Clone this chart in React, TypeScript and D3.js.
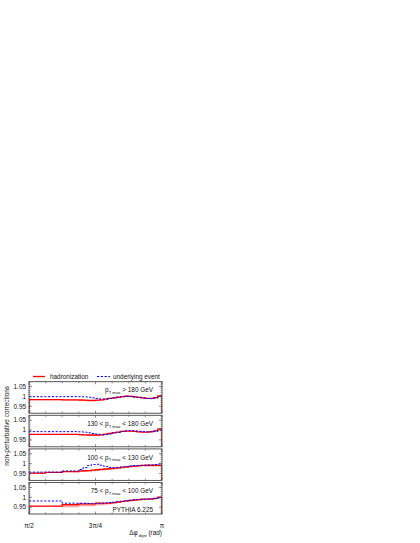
import React from "react";
import * as d3 from "d3";

// Bin edges in units of pi/64 (pi/2 .. pi)
const binEdges = [32, 36, 40, 44, 45, 46, 47, 48, 49, 50, 51, 52, 53, 54, 55, 56, 57, 58, 59, 60, 61, 62, 63, 64];

const panelLabels = [
  { pre: "p", sub: "T max", post: " > 180 GeV" },
  { pre: "130 < p", sub: "T max", post: " < 180 GeV" },
  { pre: "100 < p", sub: "T max", post: " < 130 GeV" },
  { pre: "75 < p", sub: "T max", post: " < 100 GeV" },
];

const hadronization180 = [0.984, 0.984, 0.983, 0.982, 0.981, 0.980, 0.980, 0.981, 0.983, 0.986, 0.990, 0.993, 0.996, 0.999, 1.001, 1.000, 0.998, 0.995, 0.993, 0.990, 0.990, 0.994, 1.003];
const underlying180 = [0.999, 0.999, 0.999, 0.999, 0.998, 0.996, 0.993, 0.990, 0.987, 0.987, 0.990, 0.993, 0.996, 0.999, 1.002, 1.001, 0.998, 0.995, 0.992, 0.990, 0.989, 0.992, 1.001];
const hadErr180 = [0.003, 0.003, 0.004, 0.005, 0.005, 0.005, 0.005, 0.004, 0.004, 0.003, 0.003, 0.003, 0.003, 0.003, 0.003, 0.003, 0.003, 0.003, 0.003, 0.003, 0.003, 0.003, 0.003];

const hadronization130 = [0.978, 0.978, 0.978, 0.977, 0.976, 0.975, 0.975, 0.975, 0.976, 0.979, 0.983, 0.987, 0.990, 0.993, 0.995, 0.995, 0.993, 0.991, 0.990, 0.990, 0.992, 0.996, 1.006];
const underlying130 = [0.992, 0.992, 0.992, 0.991, 0.989, 0.986, 0.983, 0.980, 0.977, 0.977, 0.980, 0.985, 0.989, 0.993, 0.996, 0.997, 0.996, 0.994, 0.992, 0.991, 0.991, 0.994, 1.000];
const hadErr130 = [0.003, 0.003, 0.003, 0.004, 0.004, 0.004, 0.004, 0.004, 0.004, 0.004, 0.004, 0.003, 0.003, 0.003, 0.003, 0.003, 0.003, 0.003, 0.003, 0.003, 0.003, 0.003, 0.003];

const hadronization100 = [0.952, 0.956, 0.960, 0.963, 0.964, 0.965, 0.967, 0.969, 0.971, 0.973, 0.975, 0.977, 0.979, 0.982, 0.984, 0.986, 0.988, 0.990, 0.991, 0.992, 0.992, 0.992, 0.991];
const underlying100 = [0.957, 0.957, 0.963, 0.970, 0.980, 0.990, 0.996, 0.997, 0.992, 0.985, 0.980, 0.979, 0.980, 0.983, 0.985, 0.988, 0.990, 0.991, 0.992, 0.993, 0.993, 0.995, 0.998];
const hadErr100 = [0.004, 0.004, 0.004, 0.005, 0.005, 0.005, 0.005, 0.005, 0.006, 0.006, 0.006, 0.006, 0.006, 0.006, 0.006, 0.006, 0.006, 0.006, 0.006, 0.006, 0.006, 0.006, 0.006];

const hadronization75 = [0.955, 0.955, 0.963, 0.966, 0.966, 0.966, 0.966, 0.970, 0.970, 0.970, 0.970, 0.973, 0.976, 0.979, 0.982, 0.984, 0.986, 0.988, 0.990, 0.991, 0.992, 0.994, 1.000];
const underlying75 = [0.981, 0.981, 0.970, 0.970, 0.970, 0.969, 0.968, 0.969, 0.970, 0.971, 0.973, 0.975, 0.977, 0.979, 0.982, 0.985, 0.987, 0.989, 0.990, 0.991, 0.992, 0.994, 0.997];
const hadErr75 = [0.003, 0.003, 0.014, 0.012, 0.012, 0.012, 0.012, 0.010, 0.010, 0.008, 0.006, 0.005, 0.005, 0.005, 0.005, 0.005, 0.004, 0.004, 0.004, 0.004, 0.004, 0.004, 0.004];

const hadronizationSeries = [hadronization180, hadronization130, hadronization100, hadronization75];
const underlyingSeries = [underlying180, underlying130, underlying100, underlying75];
const hadErrSeries = [hadErr180, hadErr130, hadErr100, hadErr75];

const yTickValues = [0.95, 1, 1.05];
const yTickLabels = ["0.95", "1", "1.05"];
const xTickValues = [Math.PI / 2, (3 * Math.PI) / 4, Math.PI];
const xTickLabels = ["\u03c0/2", "3\u03c0/4", "\u03c0"];

const FONT = "'Liberation Sans', Arial, Helvetica, sans-serif";

export default function App() {
  const W = 420, H = 543;
  const left = 29, right = 162;
  const firstTop = 381.7, panelH = 31.5, pitch = 33.6;
  const x = d3.scaleLinear().domain([Math.PI / 2, Math.PI]).range([left, right]);
  const edgeX = binEdges.map((e) => x((e * Math.PI) / 64));
  const minorX = d3.range(0, 9).map((k) => Math.PI / 2 + (k * Math.PI) / 16);
  const minorY = d3.range(0.92, 1.075, 0.01);

  const panels = hadronizationSeries.map((had, pi) => {
    const top = firstTop + pi * pitch;
    const bottom = top + panelH;
    const y = d3.scaleLinear().domain([0.915, 1.075]).range([bottom, top]);
    const und = underlyingSeries[pi];
    const err = hadErrSeries[pi];
    const stepPts = (vals: number[]) => {
      const pts: [number, number][] = [];
      vals.forEach((v, i) => {
        pts.push([edgeX[i], y(v)]);
        pts.push([edgeX[i + 1], y(v)]);
      });
      return pts;
    };
    const line = d3.line<[number, number]>().x((d) => d[0]).y((d) => d[1]);
    const hadPts = stepPts(had);
    const hadPath = line([[edgeX[0], bottom], ...hadPts, [edgeX[edgeX.length - 1], bottom]]);
    const undPath = line(stepPts(und));
    const bandData: { x: number; lo: number; hi: number }[] = [];
    had.forEach((v, i) => {
      bandData.push({ x: edgeX[i], lo: v - err[i], hi: v });
      bandData.push({ x: edgeX[i + 1], lo: v - err[i], hi: v });
    });
    const band = d3.area<{ x: number; lo: number; hi: number }>()
      .x((d) => d.x).y0((d) => y(d.lo)).y1((d) => y(d.hi));
    const lab = panelLabels[pi];
    return (
      <g key={pi}>
        <defs>
          <clipPath id={`clip${pi}`}>
            <rect x={left} y={top} width={right - left} height={panelH} />
          </clipPath>
        </defs>
        <g clipPath={`url(#clip${pi})`}>
          <path d={band(bandData) || ""} fill="#ffa0a0" stroke="none" />
          <path d={hadPath || ""} fill="none" stroke="#ff0000" strokeWidth={1.3} />
          <path d={undPath || ""} fill="none" stroke="#0000ff" strokeWidth={1} strokeDasharray="2.2,1.6" />
        </g>
        <rect x={left} y={top} width={right - left} height={panelH} fill="none" stroke="#444" strokeWidth={0.9} />
        {minorX.map((v, i) => (
          <g key={"xt" + i}>
            <line x1={x(v)} x2={x(v)} y1={bottom} y2={bottom - (i % 4 === 0 ? 2.5 : 1.6)} stroke="#444" strokeWidth={0.6} />
            <line x1={x(v)} x2={x(v)} y1={top} y2={top + (i % 4 === 0 ? 2.5 : 1.6)} stroke="#444" strokeWidth={0.6} />
          </g>
        ))}
        {minorY.map((v, i) => (
          <g key={"ym" + i}>
            <line x1={left} x2={left + 1.5} y1={y(v)} y2={y(v)} stroke="#444" strokeWidth={0.5} />
            <line x1={right} x2={right - 1.5} y1={y(v)} y2={y(v)} stroke="#444" strokeWidth={0.5} />
          </g>
        ))}
        {yTickValues.map((v, i) => (
          <g key={"yt" + i}>
            <line x1={left} x2={left + 3} y1={y(v)} y2={y(v)} stroke="#444" strokeWidth={0.6} />
            <line x1={right} x2={right - 3} y1={y(v)} y2={y(v)} stroke="#444" strokeWidth={0.6} />
            <text x={left - 3} y={y(v)} dy="0.35em" textAnchor="end" fontSize={6.4} fontFamily={FONT} fill="#111">
              {yTickLabels[i]}
            </text>
          </g>
        ))}
        <text x={right - 9} y={top + 10.6} textAnchor="end" fontSize={6.4} fontFamily={FONT} fill="#111">
          <tspan>{lab.pre}</tspan>
          <tspan dy={1.6} fontSize={4.3}>{lab.sub}</tspan>
          <tspan dy={-1.6}>{lab.post}</tspan>
        </text>
        {pi === 3 && (
          <text x={right - 9} y={top + 29} textAnchor="end" fontSize={6.4} fontFamily={FONT} fill="#111">
            PYTHIA 6.225
          </text>
        )}
      </g>
    );
  });

  const lastBottom = firstTop + 3 * pitch + panelH;

  return (
    <svg width={W} height={H} style={{ position: "absolute", left: 0, top: 0, background: "#fff" }}>
      {/* legend */}
      <line x1={33} x2={45} y1={376.5} y2={376.5} stroke="#ff0000" strokeWidth={1.3} />
      <text x={50} y={378.8} fontSize={6.4} fontFamily={FONT} fill="#111">hadronization</text>
      <line x1={97} x2={110} y1={376.5} y2={376.5} stroke="#0000ff" strokeWidth={1} strokeDasharray="2.2,1.6" />
      <text x={113} y={378.8} fontSize={6.4} fontFamily={FONT} fill="#111">underlying event</text>
      {panels}
      {xTickValues.map((v, i) => (
        <text key={"xl" + i} x={x(v)} y={lastBottom + 13.5} textAnchor="middle" fontSize={6.4} fontFamily={FONT} fill="#111">
          {xTickLabels[i]}
        </text>
      ))}
      <text x={right} y={lastBottom + 21} textAnchor="end" fontSize={6.4} fontFamily={FONT} fill="#111">
        <tspan>{"\u0394\u03c6"}</tspan>
        <tspan dy={1.6} fontSize={4.3}>{" dijet"}</tspan>
        <tspan dy={-1.6}>{"   (rad)"}</tspan>
      </text>
      <text transform={`translate(8.5, ${(firstTop + lastBottom) / 2 - 22}) rotate(-90)`} textAnchor="middle" fontSize={6.4} fontFamily={FONT} fill="#111">
        non-perturbative corrections
      </text>
    </svg>
  );
}
